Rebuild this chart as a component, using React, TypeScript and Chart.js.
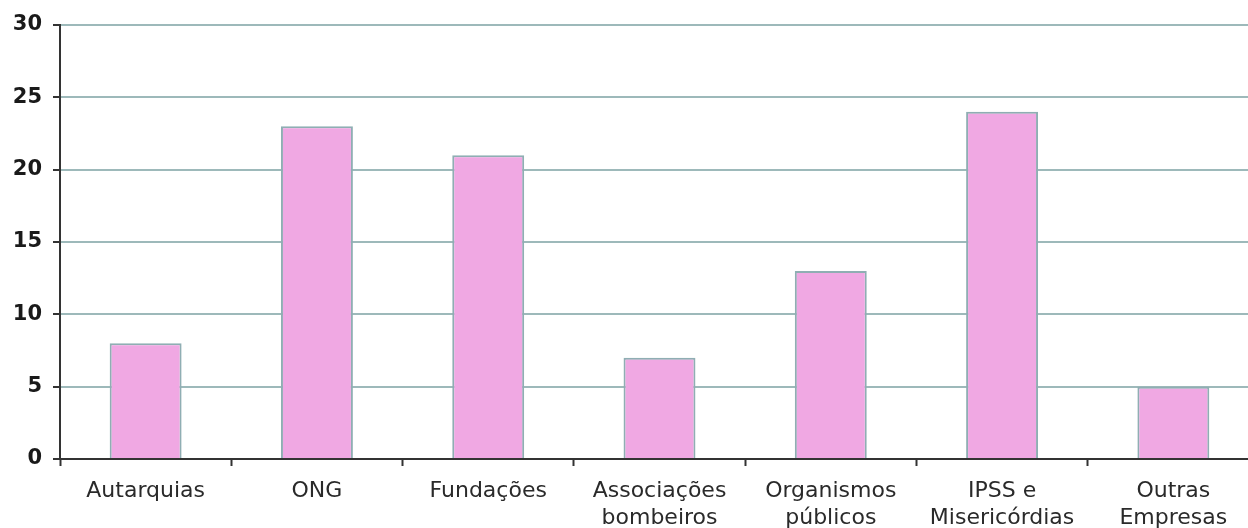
import React, { useEffect, useRef } from "react";
import { Chart, registerables } from "chart.js";

Chart.register(...registerables);

const categories: (string | string[])[] = [
  "Autarquias",
  "ONG",
  "Fundações",
  ["Associações", "bombeiros"],
  ["Organismos", "públicos"],
  ["IPSS e", "Misericórdias"],
  ["Outras", "Empresas"],
];
const values: number[] = [8, 23, 21, 7, 13, 24, 5];
const yTicks: number[] = [0, 5, 10, 15, 20, 25, 30];

export default function App() {
  const ref = useRef<HTMLCanvasElement>(null);

  useEffect(() => {
    if (!ref.current) return;
    const chart = new Chart(ref.current, {
      type: "bar",
      data: {
        labels: categories,
        datasets: [
          {
            data: values,
            backgroundColor: "#F0A8E3",
            borderColor: "#8FAEB3",
            borderWidth: 2,
            barPercentage: 0.84,
            categoryPercentage: 0.5,
          },
        ],
      },
      options: {
        responsive: false,
        animation: false,
        layout: { padding: { top: 25, right: 0, left: 0, bottom: 0 } },
        plugins: { legend: { display: false }, tooltip: { enabled: false } },
        scales: {
          x: {
            afterFit: (s: any) => {
              s.height = 69;
            },
            grid: {
              drawOnChartArea: false,
              offset: true,
              tickLength: 7,
              tickColor: "#333333",
              tickWidth: 2,
            },
            border: { color: "#333333", width: 2 },
            ticks: {
              color: "#2a2a2a",
              padding: 12,
              maxRotation: 0,
              autoSkip: false,
              font: { family: "DejaVu Sans", size: 22, lineHeight: 1.22 },
            },
          },
          y: {
            min: 0,
            max: 30,
            afterFit: (s: any) => {
              s.width = 60;
            },
            afterBuildTicks: (s: any) => {
              s.ticks = yTicks.map((v) => ({ value: v }));
            },
            grid: {
              color: "#9DB9BA",
              lineWidth: 2,
              tickLength: 7,
              tickColor: "#333333",
              tickWidth: 2,
            },
            border: { color: "#333333", width: 2 },
            ticks: {
              color: "#1a1a1a",
              padding: 11,
              font: { family: "DejaVu Sans", size: 21, weight: "bold" },
            },
          },
        },
      },
    });
    return () => chart.destroy();
  }, []);

  return (
    <div
      style={{
        position: "absolute",
        left: 0,
        top: 0,
        width: 1248,
        height: 528,
        overflow: "hidden",
        background: "#ffffff",
      }}
    >
      <canvas ref={ref} width={1259} height={528} style={{ display: "block" }} />
    </div>
  );
}
